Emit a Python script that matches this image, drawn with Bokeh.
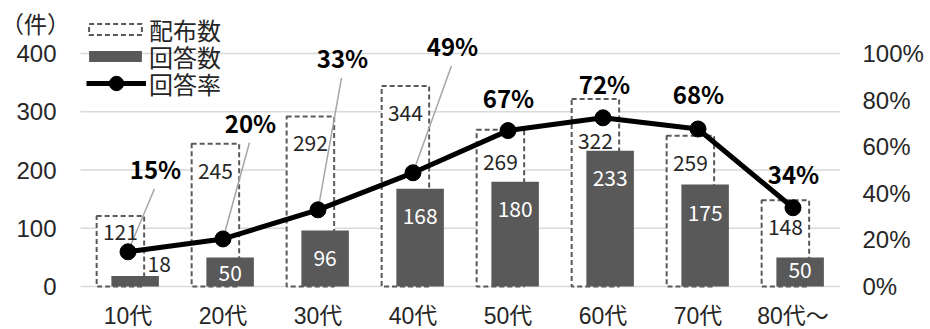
from bokeh.plotting import figure
from bokeh.models import (ColumnDataSource, Range1d, LinearAxis, FixedTicker,
                          Legend, LegendItem, PrintfTickFormatter)
from bokeh.embed import file_html
from bokeh.resources import INLINE
from bokeh.core.properties import value

# ---------------- data ----------------
categories = ["10代", "20代", "30代", "40代", "50代", "60代", "70代", "80代～"]
distributed = [121, 245, 292, 344, 269, 322, 259, 148]   # 配布数
answered = [18, 50, 96, 168, 180, 233, 175, 50]          # 回答数
rate = [14.9, 20.4, 32.9, 48.8, 66.9, 72.4, 67.6, 33.8]  # 回答率 (%)
left_ticks = [0, 100, 200, 300, 400]
right_ticks = [0, 20, 40, 60, 80, 100]
unit_label = "（件）"

# ---------------- layout / style ----------------
FONT = "Noto Sans CJK JP"
AX_FONT = "Liberation Sans, Noto Sans CJK JP"
W, H = 930, 329
PLOT_L, FRAME_R = 80, 90
FRAME_H = H                            # frame spans the full height
ZERO_PX, TOP_PX = 286, 53             # screen y of 0 and 400
PX_PER_UNIT = (ZERO_PX - TOP_PX) / 400.0
PX_PER_PCT = (ZERO_PX - TOP_PX) / 100.0
N = len(categories)
CAT_PX = (W - PLOT_L - FRAME_R) / N    # 95 px per category

y_start = -(FRAME_H - ZERO_PX) / PX_PER_UNIT
y_end = ZERO_PX / PX_PER_UNIT
p_start = -(FRAME_H - ZERO_PX) / PX_PER_PCT
p_end = ZERO_PX / PX_PER_PCT
x_start = -PLOT_L / CAT_PX

def px_x(px):        # screen x -> x data units
    return (px - PLOT_L) / CAT_PX

def px_y(py):        # screen y -> count units
    return (ZERO_PX - py) / PX_PER_UNIT

DIST_OFF, ANS_OFF, BAR_W = -0.08, 0.075, 0.5

# label placements (pixels): distance below bar top, and offsets from markers
dist_lab_dy = [15.5, 27, 27, 27, 32, 42, 27, 27]
ans_lab_dy = [-12.5, 16, 27, 27, 27, 27, 28, 13]
ans_lab_dx = [24, 0, 0, 0, 0, 0, 0, 0]
ans_lab_col = ["#262626"] + ["white"] * 7
pct_lab_dx = [27.5, 27.5, 24.5, 39.5, 0.5, 1.5, 0.5, 0.5]
pct_lab_dy = [-83, -116.5, -152, -127, -33, -34, -35, -34]
leader = [True, True, True, True, False, False, False, False]

idx = list(range(N))
xc = [i + 0.5 for i in idx]
src = ColumnDataSource(dict(
    xd=[x + DIST_OFF for x in xc], xa=[x + ANS_OFF for x in xc], xc=xc,
    dist=distributed, ans=answered, rate=rate))

p = figure(x_range=Range1d(x_start, N), y_range=Range1d(y_start, y_end),
           width=W, height=H, output_backend="svg", toolbar_location=None,
           y_axis_location=None, x_axis_location=None,
           min_border_left=0, min_border_right=FRAME_R,
           min_border_top=0, min_border_bottom=0)
p.extra_y_ranges = {"pct": Range1d(p_start, p_end)}
p.outline_line_color = None
p.background_fill_color = "white"
p.border_fill_color = "white"
p.xgrid.visible = False
p.ygrid.visible = False

# horizontal gridlines across the plot area
p.segment(x0=[0] * len(left_ticks), x1=[N] * len(left_ticks), y0=left_ticks, y1=left_ticks,
          line_color="#d9d9d9", line_width=1.3)

# right (percentage) axis
raxis = LinearAxis(y_range_name="pct", ticker=FixedTicker(ticks=right_ticks),
                   formatter=PrintfTickFormatter(format="%d%%"))
raxis.axis_line_color = None
raxis.major_tick_line_color = None
raxis.minor_tick_line_color = None
raxis.major_tick_out = 0
raxis.major_tick_in = 0
raxis.minor_tick_out = 0
raxis.minor_tick_in = 0
raxis.major_label_text_font = AX_FONT
raxis.major_label_text_font_size = "24px"
raxis.major_label_text_color = "#262626"
raxis.major_label_standoff = 22
p.add_layout(raxis, "right")

# left (count) tick labels, unit and category labels
p.text(x=[px_x(56)] * len(left_ticks), y=left_ticks, text=[str(t) for t in left_ticks],
       text_font=value(AX_FONT), text_font_size="24px", text_color="#262626",
       text_align="right", text_baseline="middle")
p.text(x=[px_x(35)], y=[px_y(22)], text=[unit_label], text_font=value(FONT),
       text_font_size="23px", text_color="#262626", text_align="center",
       text_baseline="middle")
p.text(x=xc, y=[px_y(315)] * N, text=categories, text_font=value(AX_FONT),
       text_font_size="23px", text_color="#262626", text_align="center",
       text_baseline="middle")

# bars
dist_r = p.vbar(x="xd", top="dist", width=BAR_W, fill_color="white",
                line_color="#595959", line_dash="5 3", line_width=2, source=src)
ans_r = p.vbar(x="xa", top="ans", width=BAR_W, fill_color="#595959",
               line_color=None, source=src)

# leader lines (in pct coordinates)
lx0, ly0, lx1, ly1 = [], [], [], []
for i in idx:
    if leader[i]:
        lx0.append(xc[i] + (pct_lab_dx[i] - 1) / CAT_PX)
        ly0.append(rate[i] - (pct_lab_dy[i] + 20) / PX_PER_PCT)
        lx1.append(xc[i])
        ly1.append(rate[i])
p.segment(x0=lx0, y0=ly0, x1=lx1, y1=ly1, line_color="#a6a6a6", line_width=1.5,
          y_range_name="pct")

# rate line
line_r = p.line(x="xc", y="rate", y_range_name="pct", line_color="black",
                line_width=5, source=src)
pt_r = p.scatter(x="xc", y="rate", y_range_name="pct", size=16, fill_color="black",
                 line_color="black", source=src)

# labels for 配布数
dist_lab = ColumnDataSource(dict(
    x=[xc[i] + DIST_OFF for i in idx],
    y=[distributed[i] - dist_lab_dy[i] / PX_PER_UNIT for i in idx],
    t=[str(v) for v in distributed]))
p.text(x="x", y="y", text="t", source=dist_lab, text_font=value(FONT),
       text_font_size="21px", text_color="#262626", text_align="center",
       text_baseline="middle")

# labels for 回答数
ans_lab = ColumnDataSource(dict(
    x=[xc[i] + ANS_OFF + ans_lab_dx[i] / CAT_PX for i in idx],
    y=[answered[i] - ans_lab_dy[i] / PX_PER_UNIT for i in idx],
    t=[str(v) for v in answered], c=ans_lab_col))
p.text(x="x", y="y", text="t", source=ans_lab, text_font=value(FONT),
       text_font_size="21px", text_color="c", text_align="center",
       text_baseline="middle")

# labels for 回答率
pct_lab = ColumnDataSource(dict(
    x=[xc[i] + pct_lab_dx[i] / CAT_PX for i in idx],
    y=[rate[i] - pct_lab_dy[i] / PX_PER_PCT for i in idx],
    t=["%d%%" % round(v) for v in rate]))
p.text(x="x", y="y", text="t", source=pct_lab, y_range_name="pct",
       text_font=value(FONT), text_font_size="24px", text_font_style="bold",
       text_color="black", text_align="center", text_baseline="middle")

# legend: one box per entry so that each row can be placed on its own
def make_legend(label, renderers, box_left, row_center, glyph_w, glyph_h, standoff, bg):
    row_h, pad = 40, 4
    box_bottom = row_center - row_h / 2 + row_h + pad
    return Legend(items=[LegendItem(label=label, renderers=renderers)],
                  location=(box_left, FRAME_H - box_bottom), padding=pad, spacing=0,
                  margin=0, label_height=row_h, label_width=90, glyph_height=glyph_h,
                  glyph_width=glyph_w, label_standoff=standoff,
                  label_text_font=AX_FONT, label_text_font_size="24px",
                  label_text_color="#262626", label_text_baseline="middle",
                  background_fill_color=bg, background_fill_alpha=1.0 if bg else 0.0,
                  border_line_color=None)

p.add_layout(make_legend("配布数", [dist_r], 82, 25, 66, 14, 1, "white"))
p.add_layout(make_legend("回答数", [ans_r], 82, 52, 66, 14, 1, None))
p.add_layout(make_legend("回答率", [line_r, pt_r], 86, 79, 60, 36, 3, None))

open("out.html", "w").write(file_html(p, INLINE))
